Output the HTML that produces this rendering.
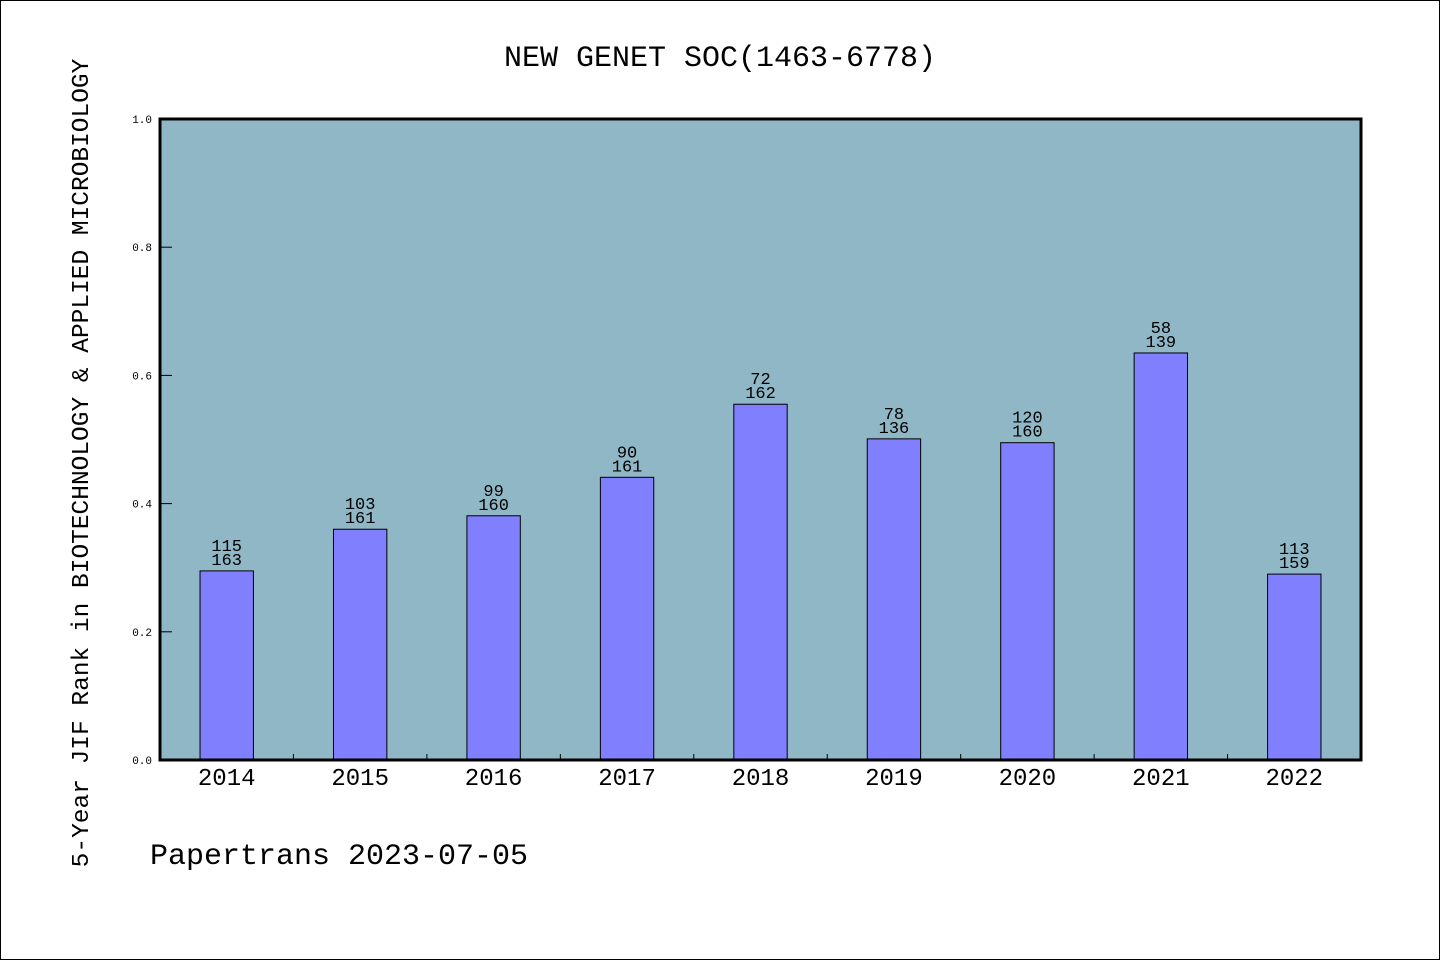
<!DOCTYPE html>
<html><head><meta charset="utf-8"><style>
html,body{margin:0;padding:0;background:#fff}
svg{display:block}
text{font-family:"Liberation Mono","WenQuanYi Zen Hei",monospace;fill:#000}
</style></head><body>
<svg id="chart" width="1440" height="960" xmlns="http://www.w3.org/2000/svg">
<rect x="0.5" y="0.5" width="1439" height="959" fill="#fff" stroke="#000"/>
<text x="720" y="66" font-size="30" text-anchor="middle">NEW GENET SOC(1463-6778)</text>
<text transform="translate(88,463) rotate(-90)" font-size="24.5" text-anchor="middle">5-Year JIF Rank in BIOTECHNOLOGY &amp; APPLIED MICROBIOLOGY</text>
<text x="150" y="864" font-size="30">Papertrans 2023-07-05</text>
<rect x="160" y="119" width="1201" height="641" fill="#8fb7c5"/>
<g id="marks"></g>
<rect x="160" y="119" width="1201" height="641" fill="none" stroke="#000" stroke-width="3"/>
</svg>
<script>
const years = ["2014","2015","2016","2017","2018","2019","2020","2021","2022"];
const values = [0.295,0.360,0.381,0.441,0.555,0.501,0.495,0.635,0.290];
const ranks = [115,103,99,90,72,78,120,58,113];
const totals = [163,161,160,161,162,136,160,139,159];
const yTicks = [0,0.2,0.4,0.6,0.8,1.0];
const yTickLabels = ["0.0","0.2","0.4","0.6","0.8","1.0"];

const NS="http://www.w3.org/2000/svg";
const L=160,R=1361,T=119,B=760;
const band=(R-L)/years.length;
const x=i=>L+band*(i+0.5);
const y=v=>B-(B-T)*v;
const g=document.getElementById('marks');
function mk(tag,attrs,txt){const e=document.createElementNS(NS,tag);for(const k in attrs)e.setAttribute(k,attrs[k]);if(txt!==undefined)e.textContent=txt;g.appendChild(e);return e;}

yTicks.forEach((t,i)=>{
  const ln=mk('line',{x1:L,x2:L+12,y1:y(t),y2:y(t),stroke:'#000','stroke-width':1});
  
  
  const tx=mk('text',{x:152,y:y(t)+4,'font-size':11,'text-anchor':'end'},yTickLabels[i]);
  
  
});
for(let i=1;i<years.length;i++){
  const xx=L+band*i;
  const ln=mk('line',{x1:xx,x2:xx,y1:B,y2:B-6,stroke:'#000','stroke-width':1});
  
  
}
const bw=band*0.4;
years.forEach((yr,i)=>{
  const v=values[i];
  const r=mk('rect',{x:x(i)-bw/2,y:y(v),width:bw,height:B-y(v),fill:'#8080ff',stroke:'#000','stroke-width':1});
  
  
  const t1=mk('text',{x:x(i),y:y(v)-20,'font-size':17,'text-anchor':'middle'},String(ranks[i]));
  
  
  const t2=mk('text',{x:x(i),y:y(v)-6,'font-size':17,'text-anchor':'middle'},String(totals[i]));
  
  
  const xl=mk('text',{x:x(i),y:785,'font-size':24,'text-anchor':'middle'},yr);
  
  
});
</script>
</body></html>
